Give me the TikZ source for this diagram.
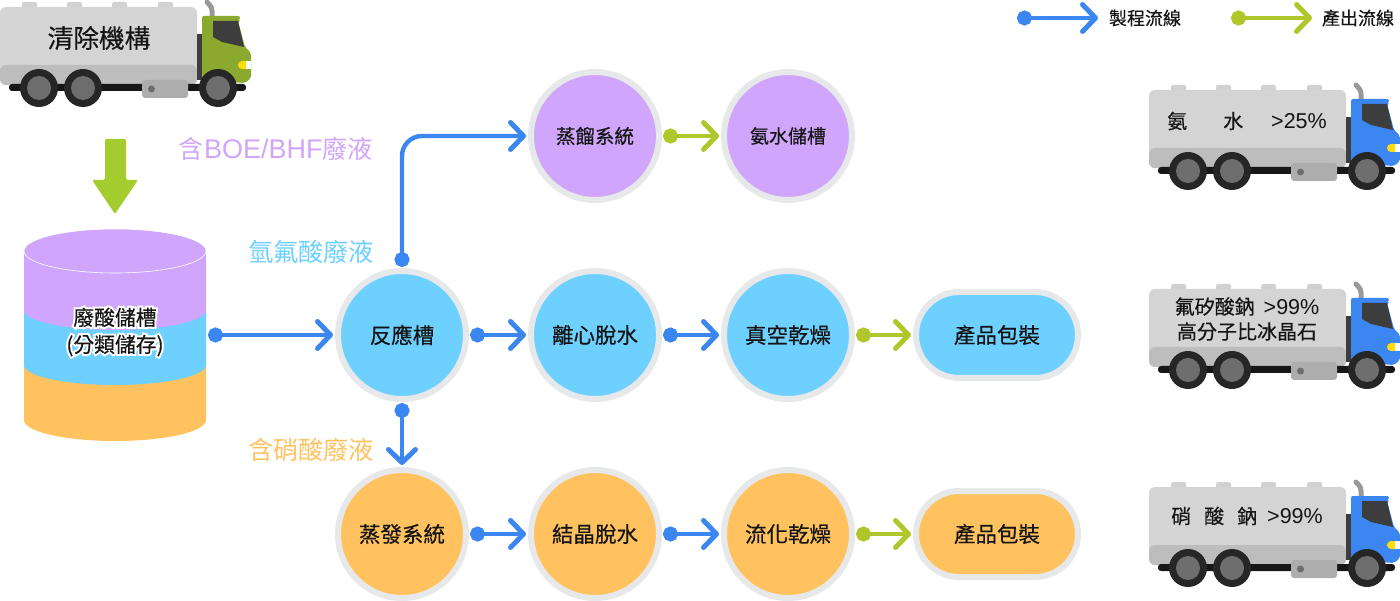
\documentclass[tikz,border=0pt]{standalone}
\usepackage{fontspec}
\usetikzlibrary{shapes,arrows,arrows.meta}
\setmainfont[FakeBold=0.4]{Noto Sans CJK TC}
\newfontfamily\plaincjk{Noto Sans CJK TC}
\newfontfamily\halofont[FakeBold=20]{Noto Sans CJK TC}
\newfontfamily\latn{Liberation Sans}
\newcommand{\halo}[1]{\leavevmode\rlap{\textcolor{white}{\halofont #1}}#1}
\definecolor{flowblue}{HTML}{3B86F0}
\definecolor{flowgreen}{HTML}{AFC72B}
\definecolor{ringgrey}{HTML}{E7E8E9}
\definecolor{lilac}{HTML}{CFA6FB}
\definecolor{sky}{HTML}{6DD0FF}
\definecolor{amber}{HTML}{FFC25F}
\definecolor{cabgreen}{HTML}{8BA92F}
\definecolor{tipgreen}{HTML}{A5CC2E}
\definecolor{inkblack}{HTML}{151515}
\tikzstyle{proc}=[circle, draw=ringgrey, line width=6pt, minimum size=128pt, inner sep=0pt, text=inkblack, font=\fontsize{21.5}{25}\selectfont]
\tikzstyle{prod}=[rounded rectangle, draw=ringgrey, line width=6pt, minimum width=162pt, minimum height=86pt, inner sep=0pt, text=inkblack, font=\fontsize{21.5}{25}\selectfont]
\tikzstyle{flow}=[line width=4.4pt, flowblue, {Circle[length=15pt]}-{Straight Barb[length=13pt,width=27pt,round,line width=5pt]}, shorten <=1pt, shorten >=2pt]
\tikzstyle{outflow}=[flow, flowgreen]
\tikzstyle{waste}=[font=\plaincjk\fontsize{25.2}{28}\selectfont]
\tikzstyle{load}=[text=inkblack, align=center, font=\fontsize{20}{25}\selectfont, inner sep=0pt]
\tikzstyle{legend}=[text=inkblack, font=\fontsize{18}{20}\selectfont, inner sep=0pt]
\tikzset{pics/truck/.style={code={
  \fill[rounded corners=2pt,white!82!black] (22,-5) rectangle (37,3) (67,-5) rectangle (82,3) (112,-5) rectangle (127,3) (158,-5) rectangle (173,3);
  \fill[rounded corners=6pt,white!83!black] (0,0) rectangle (197,78);
  \fill[rounded corners=6pt,white!74!black] (0,58) -- (0,78) -- (197,78) -- (197,58) -- cycle;
  \draw[line width=5pt,line cap=round,white!60!black] (212,9) -- (212,4) .. controls (212,-1) and (209,-2) .. (207,-5);
  \fill[white!24!black] (197,27) rectangle (203,73);
  \fill[rounded corners=3pt,white!9!black] (9,77) rectangle (246,84);
  \fill[#1,rounded corners=2pt] (202,73) -- (202,9) -- (240,9) -- (240,13) -- (238,14) -- (245,40) -- (251,46) -- (251,71) -- (245,76) -- cycle;
  \fill[white!24!black] (213,14) -- (238,14) -- (244,40) -- (222,35) -- (213,30) -- cycle;
  \fill[yellow!80!orange,rounded corners=4pt] (238,54) rectangle (250,62);
  \fill[white] (246,54) rectangle (251,62);
  \fill[rounded corners=3pt,white!68!black] (142,73) rectangle (188,91);
  \fill[white!43!black] (151.5,82) circle (3.5pt);
  \foreach \wx in {39,83,218} {
    \fill[white!15!black] (\wx,81) circle (19pt);
    \fill[white!43!black] (\wx,81) circle (12pt);
  }
}}}
\begin{document}
\begin{tikzpicture}[x=1pt,y=-1pt,node distance=193pt,>=latex]
\useasboundingbox (0,0) rectangle (1400,601);

% collection truck and drop arrow
\pic at (0,7) {truck=cabgreen};
\node[load, font=\fontsize{25.7}{30}\selectfont] (collect) at (99,38) {清除機構};
\fill[tipgreen, rounded corners=1.5pt] (105,139) -- (126,139) -- (126,180) -- (138,180) -- (115,214) -- (92,180) -- (105,180) -- cycle;

% storage tank
\fill[amber] (24,365) rectangle (206,420) (115,420) ellipse [x radius=91pt, y radius=21pt];
\fill[sky] (24,310) rectangle (206,365) (115,365) ellipse [x radius=91pt, y radius=20pt];
\fill[lilac] (24,251) rectangle (206,310) (115,310) ellipse [x radius=91pt, y radius=20pt];
\fill[lilac] (115,251) ellipse [x radius=91pt, y radius=22pt];
\draw[white, line width=0.6pt] (115,251) ellipse [x radius=91pt, y radius=22pt];
\node[load, font=\fontsize{20.8}{27}\selectfont] (tank) at (115,332) {\halo{廢酸儲槽}\\\halo{(分類儲存)}};
\coordinate (tankout) at (207,335);

% process rows
\node[proc, fill=sky] at (402,335) (react) {反應槽};
\node[proc, fill=sky, right of = react] (dewater) {離心脫水};
\node[proc, fill=sky, right of = dewater] (vacdry) {真空乾燥};
\node[prod, fill=sky, right of = vacdry, node distance = 209pt] (pack1) {產品包裝};

\node[proc, fill=lilac, above of = dewater, node distance = 199pt, font=\fontsize{19.5}{24}\selectfont] (distil) {蒸餾系統};
\node[proc, fill=lilac, right of = distil, font=\fontsize{19}{24}\selectfont] (ammonia) {氨水儲槽};

\node[proc, fill=amber, below of = react, node distance = 199pt] (evap) {蒸發系統};
\node[proc, fill=amber, right of = evap] (crystal) {結晶脫水};
\node[proc, fill=amber, right of = crystal] (fluid) {流化乾燥};
\node[prod, fill=amber, right of = fluid, node distance = 209pt] (pack2) {產品包裝};

\draw[flow] (tankout) -- (react);
\draw[flow, rounded corners=20pt] (react.north) |- (distil.west);
\draw[flow] (react) -- (dewater);
\draw[flow] (react.south) -- (evap.north);
\draw[flow] (dewater) -- (vacdry);
\draw[flow] (evap) -- (crystal);
\draw[flow] (crystal) -- (fluid);
\draw[outflow] (distil) -- (ammonia);
\draw[outflow] (vacdry) -- (pack1);
\draw[outflow] (fluid) -- (pack2);

% waste labels
\node[waste, text=lilac] (boe) at (276,149) {含{\latn\fontsize{27}{28}\selectfont BOE/BHF}廢液};
\node[waste, text=sky] (hf) at (311,252) {氫氟酸廢液};
\node[waste, text=amber] (nitric) at (311,450) {含硝酸廢液};

% output trucks
\pic at (1149,90) {truck=flowblue};
\pic at (1149,289) {truck=flowblue};
\pic at (1149,487) {truck=flowblue};
\node[load] (load1) at (1247,121) {氨\hspace{36pt}水\hspace{28pt}{\latn\fontsize{21.5}{25}\selectfont >25\%}};
\node[load] (load2) at (1247,319) {氟矽酸鈉\hspace{9pt}{\latn\fontsize{21.5}{25}\selectfont >99\%}\\高分子比冰晶石};
\node[load] (load3) at (1247,516) {硝\hspace{13pt}酸\hspace{13pt}鈉\hspace{10pt}{\latn\fontsize{21.5}{25}\selectfont >99\%}};

% legend
\coordinate (leg1a) at (1016,18);
\coordinate (leg1b) at (1100,18);
\coordinate (leg2a) at (1230,18);
\coordinate (leg2b) at (1314,18);
\draw[flow] (leg1a) -- (leg1b);
\draw[outflow] (leg2a) -- (leg2b);
\node[legend] (leg1) at (1145,18) {製程流線};
\node[legend] (leg2) at (1358,18) {產出流線};
\end{tikzpicture}
\end{document}
